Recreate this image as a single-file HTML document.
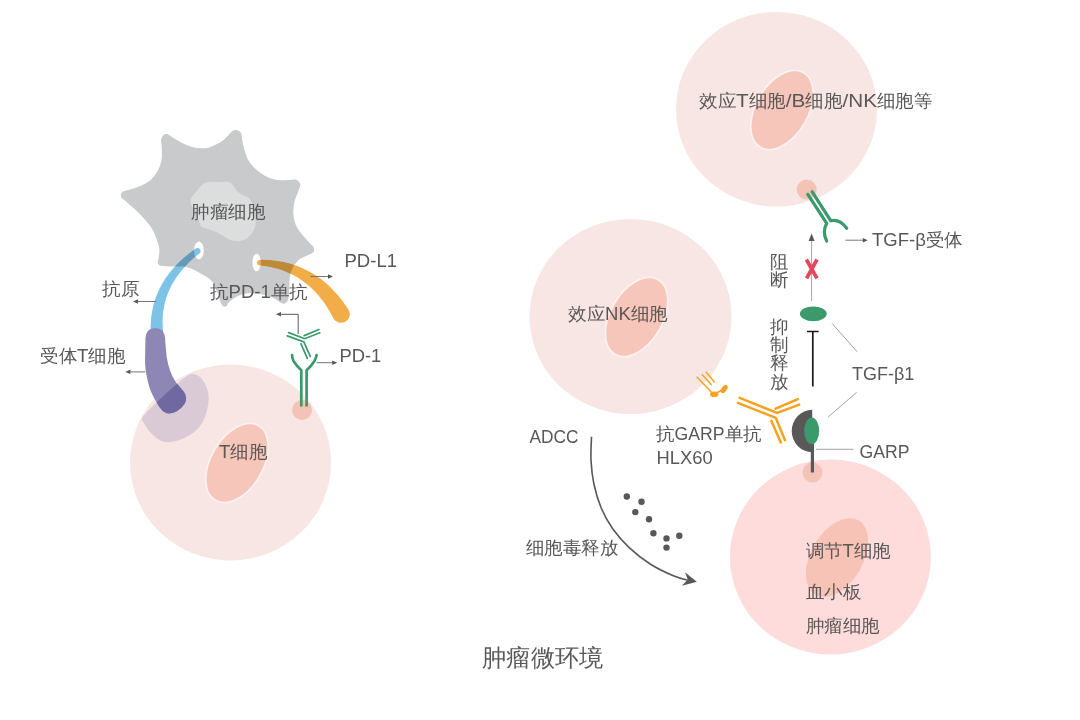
<!DOCTYPE html>
<html><head><meta charset="utf-8"><style>
html,body{margin:0;padding:0;background:#fff;width:1080px;height:720px;overflow:hidden}
svg{position:absolute;left:0;top:0}
text{font-family:"Liberation Sans",sans-serif;fill:#595757}
</style></head><body>
<svg width="1080" height="720" viewBox="0 0 1080 720">
<ellipse cx="230.5" cy="462.5" rx="100.5" ry="98" fill="#f8e6e4"/>
<ellipse cx="237" cy="463" rx="26" ry="43" transform="rotate(30 237 463)" fill="#f5c6b9" stroke="#fff" stroke-opacity="0.65" stroke-width="1.6"/>
<path d="M142.5,417.5 C144.2,414.2 150.4,408.6 155.0,404.0 C159.6,399.4 165.2,394.3 170.0,390.0 C174.8,385.7 180.3,380.7 184.0,378.0 C187.7,375.3 189.3,374.2 192.0,374.0 C194.7,373.8 197.7,375.0 200.0,377.0 C202.3,379.0 204.6,382.5 206.0,386.0 C207.4,389.5 208.7,393.3 208.7,398.0 C208.7,402.7 207.4,409.3 206.0,414.0 C204.6,418.7 202.7,422.5 200.0,426.0 C197.3,429.5 194.0,432.5 190.0,435.0 C186.0,437.5 180.5,439.9 176.0,441.0 C171.5,442.1 167.0,442.7 163.0,441.5 C159.0,440.3 155.1,436.9 152.0,434.0 C148.9,431.1 146.1,426.8 144.5,424.0 C142.9,421.2 140.8,420.8 142.5,417.5 Z" fill="#d9cad5"/>
<g style="mix-blend-mode:multiply"><path d="M163.9,134.8 C164.9,133.9 166.1,133.9 167.2,134.1 C168.3,134.3 168.2,134.6 170.6,136.1 C173.0,137.6 178.0,141.0 181.7,142.8 C185.4,144.7 189.1,146.3 192.8,147.2 C196.5,148.1 200.9,148.4 203.9,148.3 C206.9,148.2 208.1,147.9 211.1,146.7 C214.1,145.5 219.0,143.3 222.2,141.1 C225.3,138.9 228.2,135.1 230.0,133.3 C231.8,131.6 232.2,131.2 233.3,130.6 C234.4,130.0 235.4,129.6 236.7,130.0 C238.0,130.4 240.2,131.6 241.1,133.3 C242.0,135.0 241.6,137.2 242.2,140.0 C242.8,142.8 243.3,146.5 244.4,150.0 C245.5,153.5 247.0,157.9 248.9,161.1 C250.8,164.2 252.6,166.3 255.6,168.9 C258.6,171.5 263.0,174.8 266.7,176.7 C270.4,178.5 274.1,179.4 277.8,180.0 C281.5,180.6 286.1,180.1 288.9,180.0 C291.7,179.9 292.9,179.3 294.4,179.4 C295.9,179.5 296.8,179.8 297.8,180.6 C298.8,181.4 300.1,182.9 300.3,184.5 C300.5,186.1 299.8,187.1 298.8,190.0 C297.8,192.9 295.3,198.3 294.4,202.2 C293.5,206.1 293.1,209.6 293.3,213.3 C293.5,217.0 294.3,221.1 295.6,224.4 C296.9,227.7 298.9,230.3 301.1,233.3 C303.3,236.3 306.9,240.0 308.9,242.2 C310.9,244.4 312.4,245.2 313.3,246.7 C314.2,248.2 314.4,249.8 314.0,251.0 C313.6,252.2 313.4,252.5 311.1,253.8 C308.8,255.1 303.0,256.8 300.0,258.9 C297.0,261.0 295.0,263.9 293.3,266.7 C291.6,269.5 290.6,272.7 290.0,275.6 C289.4,278.6 289.6,281.1 289.4,284.4 C289.2,287.7 289.2,292.9 288.9,295.6 C288.6,298.3 288.4,299.2 287.8,300.5 C287.2,301.8 286.7,302.9 285.6,303.3 C284.5,303.7 283.2,303.9 281.1,303.0 C279.1,302.1 276.5,299.2 273.3,297.8 C270.1,296.4 266.4,295.1 262.2,294.4 C257.9,293.6 252.1,292.9 247.8,293.3 C243.6,293.7 239.8,295.2 236.7,296.7 C233.5,298.2 230.6,300.6 228.9,302.2 C227.2,303.8 227.4,305.3 226.5,306.0 C225.6,306.7 224.5,307.2 223.5,306.5 C222.5,305.8 222.3,306.0 220.5,302.0 C218.7,298.0 216.2,287.4 212.9,282.6 C209.6,277.8 204.9,275.9 200.6,273.4 C196.3,270.8 191.5,268.4 186.9,267.3 C182.3,266.2 177.4,266.8 173.1,266.5 C168.8,266.2 163.4,266.3 160.9,265.7 C158.4,265.1 158.2,264.0 157.8,262.7 C157.4,261.4 158.3,260.4 158.6,258.1 C158.8,255.8 159.7,252.2 159.3,248.9 C158.9,245.6 157.8,242.0 156.3,238.2 C154.8,234.4 153.3,230.3 150.2,226.0 C147.1,221.7 142.2,216.5 137.9,212.2 C133.6,207.9 127.0,202.5 124.2,200.0 C121.4,197.5 121.5,198.4 121.1,197.2 C120.7,196.0 120.9,193.9 121.7,192.8 C122.5,191.7 123.5,191.5 126.1,190.6 C128.7,189.7 133.5,188.7 137.2,187.2 C140.9,185.7 145.3,183.7 148.3,181.7 C151.3,179.7 153.2,177.4 155.0,175.0 C156.8,172.6 158.3,170.0 159.4,167.2 C160.5,164.4 161.3,161.6 161.7,158.3 C162.1,155.0 161.8,150.3 161.7,147.2 C161.6,144.0 160.7,141.5 161.1,139.4 C161.5,137.3 162.9,135.7 163.9,134.8 Z" fill="#c9cacc" stroke="#c9cacc" stroke-width="0" stroke-linejoin="round"/><path d="M199.6,187.6 C201.2,185.9 202.5,184.3 204.4,183.3 C206.3,182.3 208.8,182.0 211.2,181.8 C213.6,181.6 216.4,182.3 219.0,182.3 C221.6,182.3 224.5,181.4 226.8,181.8 C229.1,182.2 231.0,183.2 232.6,184.7 C234.2,186.1 235.0,188.9 236.5,190.5 C238.0,192.1 239.5,193.2 241.4,194.4 C243.3,195.6 246.4,195.9 248.2,197.4 C250.0,198.9 251.2,200.8 252.0,203.2 C252.8,205.6 252.5,209.3 253.0,211.9 C253.5,214.5 254.6,216.4 255.0,218.7 C255.4,221.0 255.8,223.4 255.5,225.5 C255.2,227.6 254.4,229.3 253.0,231.4 C251.6,233.5 249.5,236.6 247.2,238.2 C244.9,239.8 242.2,240.8 239.4,241.1 C236.7,241.4 233.3,240.9 230.7,240.1 C228.1,239.3 226.2,237.5 223.9,236.2 C221.6,234.9 219.5,233.4 217.1,232.3 C214.7,231.2 211.9,230.4 209.3,229.4 C206.7,228.4 203.3,228.1 201.5,226.5 C199.7,224.9 199.4,222.1 198.6,219.7 C197.8,217.3 197.8,214.2 196.7,211.9 C195.6,209.6 192.8,208.2 191.8,206.1 C190.8,204.0 190.3,201.4 190.8,199.3 C191.3,197.2 193.2,195.4 194.7,193.5 C196.2,191.6 198.0,189.3 199.6,187.6 Z" fill="#dcdddd"/></g>
<ellipse cx="198.9" cy="250.4" rx="4.8" ry="9" fill="#fff"/>
<ellipse cx="256.6" cy="262.6" rx="4.2" ry="8.8" fill="#fff"/>
<g style="mix-blend-mode:multiply"><path d="M195.7,248.6 L192.7,250.8 L189.7,253.0 L186.9,255.3 L184.2,257.6 L181.5,259.9 L179.0,262.3 L176.6,264.8 L174.3,267.2 L172.0,269.8 L169.9,272.4 L167.9,275.0 L166.0,277.6 L164.2,280.4 L162.6,283.1 L161.0,286.0 L159.5,288.8 L158.2,291.7 L156.9,294.7 L155.8,297.7 L154.7,300.7 L153.8,303.8 L153.0,307.0 L152.4,310.1 L151.8,313.3 L151.3,316.6 L151.0,319.9 L150.8,323.3 L150.6,326.6 L150.7,330.1 L150.8,333.5 A6.2,6.2 0 0 0 163.2,332.5 L163.2,332.5 L162.9,329.4 L162.7,326.4 L162.6,323.5 L162.6,320.5 L162.7,317.6 L162.9,314.7 L163.2,311.9 L163.6,309.1 L164.1,306.3 L164.7,303.5 L165.4,300.8 L166.2,298.0 L167.1,295.4 L168.1,292.7 L169.3,290.0 L170.5,287.4 L171.8,284.8 L173.3,282.3 L174.8,279.7 L176.5,277.2 L178.3,274.7 L180.2,272.2 L182.2,269.8 L184.3,267.4 L186.5,265.0 L188.8,262.6 L191.3,260.3 L193.8,258.0 L196.5,255.7 L199.3,253.4 A3.0,3.0 0 0 0 195.7,248.6 Z" fill="#7dc3e8"/></g>
<g style="mix-blend-mode:multiply"><path d="M258.9,265.3 L262.4,265.7 L265.8,266.2 L269.1,266.8 L272.4,267.5 L275.6,268.3 L278.7,269.1 L281.7,270.1 L284.7,271.2 L287.6,272.4 L290.4,273.7 L293.2,275.1 L295.9,276.5 L298.5,278.1 L301.0,279.8 L303.5,281.5 L306.0,283.4 L308.3,285.3 L310.6,287.3 L312.9,289.5 L315.1,291.7 L317.2,294.0 L319.3,296.4 L321.3,298.9 L323.3,301.5 L325.2,304.3 L327.0,307.1 L328.8,310.0 L330.6,313.0 L332.2,316.1 L333.9,319.3 A8.8,8.8 0 0 0 349.1,310.7 L349.1,310.7 L346.9,307.3 L344.6,304.0 L342.3,300.8 L339.9,297.7 L337.4,294.8 L334.9,291.9 L332.3,289.2 L329.7,286.6 L327.0,284.1 L324.3,281.8 L321.5,279.5 L318.6,277.4 L315.7,275.4 L312.7,273.6 L309.7,271.8 L306.6,270.2 L303.5,268.7 L300.4,267.3 L297.2,266.0 L293.9,264.9 L290.6,263.8 L287.3,262.9 L283.9,262.1 L280.5,261.5 L277.0,260.9 L273.5,260.5 L270.0,260.1 L266.4,259.9 L262.8,259.8 L259.1,259.9 A2.8,2.8 0 0 0 258.9,265.3 Z" fill="#f2ad48"/></g>
<path d="M145.5,338 Q146,328.5 155,328 Q164.5,328.5 165,338 L166.5,356 Q169,372 176,382.5 L184,392 Q188,398 184.5,404 Q178,413 169,413.5 Q162,413 157,403 Q150,392 148,382 Q145,370 145,360 Z" fill="#8e86b5"/>
<clipPath id="cb"><path d="M142.5,417.5 C144.2,414.2 150.4,408.6 155.0,404.0 C159.6,399.4 165.2,394.3 170.0,390.0 C174.8,385.7 180.3,380.7 184.0,378.0 C187.7,375.3 189.3,374.2 192.0,374.0 C194.7,373.8 197.7,375.0 200.0,377.0 C202.3,379.0 204.6,382.5 206.0,386.0 C207.4,389.5 208.7,393.3 208.7,398.0 C208.7,402.7 207.4,409.3 206.0,414.0 C204.6,418.7 202.7,422.5 200.0,426.0 C197.3,429.5 194.0,432.5 190.0,435.0 C186.0,437.5 180.5,439.9 176.0,441.0 C171.5,442.1 167.0,442.7 163.0,441.5 C159.0,440.3 155.1,436.9 152.0,434.0 C148.9,431.1 146.1,426.8 144.5,424.0 C142.9,421.2 140.8,420.8 142.5,417.5 Z"/></clipPath>
<path d="M145.5,338 Q146,328.5 155,328 Q164.5,328.5 165,338 L166.5,356 Q169,372 176,382.5 L184,392 Q188,398 184.5,404 Q178,413 169,413.5 Q162,413 157,403 Q150,392 148,382 Q145,370 145,360 Z" fill="#7068a0" clip-path="url(#cb)"/>
<circle cx="302" cy="410" r="10" fill="#f3c3b6"/>
<path d="M301.3,405.4 L301.3,370.3 Q297,366.5 293.5,361 Q292,358 292.1,355" stroke="#3a9a6c" stroke-width="2.7" fill="none" stroke-linecap="round"/>
<path d="M306.6,405.4 L306.6,370.3 Q311,366.5 314.5,361 Q316,358 316.6,355" stroke="#3a9a6c" stroke-width="2.7" fill="none" stroke-linecap="round"/>
<path d="M288.7,332.6 L304.8,338.7 L319.8,332.8 M304.2,335.6 L318.9,329.5 M287.3,335.9 L303.9,342 L310.3,356.4 M300.9,343.7 L307.3,358.4" stroke="#3a9a6c" stroke-width="1.7" fill="none" stroke-linecap="round"/>
<line x1="156.0" y1="301.5" x2="137.5" y2="301.5" stroke="#6a6868" stroke-width="0.9"/><polygon points="133.0,301.5 138.0,299.2 138.0,303.8" fill="#595757"/>

<line x1="145.3" y1="371.9" x2="129.9" y2="371.9" stroke="#6a6868" stroke-width="0.9"/><polygon points="125.4,371.9 130.4,369.6 130.4,374.1" fill="#595757"/>

<line x1="310.5" y1="276.5" x2="328.5" y2="276.5" stroke="#6a6868" stroke-width="0.9"/><polygon points="333.0,276.5 328.0,278.8 328.0,274.2" fill="#595757"/>

<line x1="316.6" y1="362.7" x2="332.7" y2="362.7" stroke="#6a6868" stroke-width="0.9"/><polygon points="337.2,362.7 332.2,364.9 332.2,360.4" fill="#595757"/>

<polyline points="298.2,334 298.2,314.3 282,314.3" stroke="#595757" stroke-width="1" fill="none"/>
<line x1="282.0" y1="314.3" x2="280.5" y2="314.3" stroke="#6a6868" stroke-width="0.9"/><polygon points="276.0,314.3 281.0,312.1 281.0,316.6" fill="#595757"/>

<ellipse cx="776.5" cy="109.2" rx="100.5" ry="97.3" fill="#f8e6e4"/>
<ellipse cx="782" cy="110" rx="26" ry="43" transform="rotate(30 782 110)" fill="#f5c6b9" stroke="#fff" stroke-opacity="0.65" stroke-width="1.6"/>
<circle cx="806.7" cy="189.6" r="10" fill="#f3c3b6"/>
<ellipse cx="630.5" cy="316.5" rx="101" ry="97.5" fill="#f8e6e4"/>
<ellipse cx="636.6" cy="317" rx="26" ry="43" transform="rotate(30 636.6 317)" fill="#f5c6b9" stroke="#fff" stroke-opacity="0.65" stroke-width="1.6"/>
<ellipse cx="830.4" cy="557" rx="100.5" ry="97.5" fill="#fddcdb"/>
<ellipse cx="837" cy="557.6" rx="26" ry="43" transform="rotate(30 837 557.6)" fill="#f7c3b6"/>
<circle cx="812.5" cy="472.5" r="10" fill="#f3c3b6"/>
<path d="M807.8,194.4 L826.7,223.3 Q822,232 826.7,241" stroke="#3a9a6c" stroke-width="3.2" fill="none" stroke-linecap="round"/>
<path d="M812.2,191.8 L830.7,220.7 Q840,219 846.7,228.2" stroke="#3a9a6c" stroke-width="3.2" fill="none" stroke-linecap="round"/>
<line x1="845.5" y1="240.2" x2="863.3" y2="240.2" stroke="#6a6868" stroke-width="0.9"/><polygon points="867.8,240.2 862.8,242.4 862.8,237.9" fill="#595757"/>

<line x1="811.6" y1="301" x2="811.6" y2="240" stroke="#8c8c8c" stroke-width="0.8"/>
<polygon points="811.6,233.5 808.6,241 814.6,241" fill="#595757"/>
<path d="M806.4,259.5 L817,278.3 M817,259.5 L806.6,278.3" stroke="#e2485a" stroke-width="3.7" fill="none"/>
<ellipse cx="813.3" cy="313.8" rx="13.4" ry="7.4" fill="#3a9a6c"/>
<path d="M812.8,386.5 L812.8,331.5 M807,331.5 L818.6,331.5" stroke="#231815" stroke-width="1.7" fill="none"/>
<line x1="832" y1="323.4" x2="857.2" y2="351.8" stroke="#8c8c8c" stroke-width="0.8"/>
<line x1="856.6" y1="392.4" x2="828.2" y2="416.9" stroke="#8c8c8c" stroke-width="0.8"/>
<path d="M812.2,409.8 A20.5,21.2 0 0 0 812.2,452.2 Z" fill="#595757"/>
<line x1="812.4" y1="440" x2="812.4" y2="472.5" stroke="#595757" stroke-width="3.2"/>
<ellipse cx="811.7" cy="430.8" rx="7.5" ry="13.3" fill="#3a9a6c"/>
<line x1="815.8" y1="449.3" x2="853.5" y2="449.3" stroke="#8c8c8c" stroke-width="0.8"/>
<path d="M739.6,397.9 L777.1,412.9 L799.2,404.6 M775.6,408.7 L797.9,399.2 M737.9,402.9 L775.8,417.9 L785,440.2 M771.3,420.8 L780.8,442.5" stroke="#f6a21e" stroke-width="2.5" fill="none" stroke-linecap="round" stroke-linejoin="miter"/>
<path d="M696.7,376.7 L711.7,392.5 M701.7,374.2 L711.7,385 M705.8,371.7 L714.7,382.5 M714.5,394 L724,389" stroke="#f6a21e" stroke-width="1.5" fill="none"/>
<ellipse cx="714.2" cy="394.2" rx="4.2" ry="2.8" fill="#f6a21e"/>
<ellipse cx="724.2" cy="389" rx="4.6" ry="2.6" transform="rotate(-55 724.2 389)" fill="#f6a21e"/>
<path d="M591.5,436.8 C591.4,440.7 590.6,452.5 591.0,460.4 C591.4,468.3 592.2,476.1 593.9,484.0 C595.6,491.9 597.9,500.0 601.0,507.5 C604.1,515.0 608.0,522.1 612.7,528.8 C617.4,535.5 622.9,541.7 629.2,547.6 C635.5,553.5 643.0,559.5 650.5,564.2 C658.0,568.9 667.6,573.3 674.0,576.0 C680.4,578.7 686.5,579.8 689.0,580.5 " stroke="#595757" stroke-width="1.6" fill="none"/>
<polygon points="696.8,581.8 685,572.3 687.8,579.6 682,585.8" fill="#595757"/>
<circle cx="626.8" cy="496.5" r="3.2" fill="#595757"/>
<circle cx="641.5" cy="501.7" r="3.2" fill="#595757"/>
<circle cx="635.3" cy="512.1" r="3.2" fill="#595757"/>
<circle cx="649.0" cy="519.2" r="3.2" fill="#595757"/>
<circle cx="653.4" cy="533.2" r="3.2" fill="#595757"/>
<circle cx="666.5" cy="538.4" r="3.2" fill="#595757"/>
<circle cx="679.3" cy="535.7" r="3.2" fill="#595757"/>
<circle cx="666.5" cy="547.6" r="3.2" fill="#595757"/>
<text x="191.0" y="217.5" font-size="18.0" text-anchor="start" ><tspan textLength="74.16" lengthAdjust="spacingAndGlyphs">肿瘤细胞</tspan></text>
<text x="102.0" y="295.0" font-size="18.0" text-anchor="start" ><tspan textLength="37.08" lengthAdjust="spacingAndGlyphs">抗原</tspan></text>
<text x="40.0" y="361.5" font-size="18.0" text-anchor="start" ><tspan textLength="37.08" lengthAdjust="spacingAndGlyphs">受体</tspan><tspan textLength="11.33" lengthAdjust="spacingAndGlyphs">T</tspan><tspan textLength="37.08" lengthAdjust="spacingAndGlyphs">细胞</tspan></text>
<text x="210.0" y="297.5" font-size="18.0" text-anchor="start" ><tspan textLength="18.54" lengthAdjust="spacingAndGlyphs">抗</tspan><tspan textLength="42.24" lengthAdjust="spacingAndGlyphs">PD-1</tspan><tspan textLength="37.08" lengthAdjust="spacingAndGlyphs">单抗</tspan></text>
<text x="344.5" y="266.5" font-size="18.0" text-anchor="start" ><tspan textLength="52.55" lengthAdjust="spacingAndGlyphs">PD-L1</tspan></text>
<text x="339.5" y="362.0" font-size="18.0" text-anchor="start" ><tspan textLength="41.83" lengthAdjust="spacingAndGlyphs">PD-1</tspan></text>
<text x="219.0" y="457.5" font-size="18.0" text-anchor="start" ><tspan textLength="11.33" lengthAdjust="spacingAndGlyphs">T</tspan><tspan textLength="37.08" lengthAdjust="spacingAndGlyphs">细胞</tspan></text>
<text x="699.0" y="106.5" font-size="18.0" text-anchor="start" ><tspan textLength="37.08" lengthAdjust="spacingAndGlyphs">效应</tspan><tspan textLength="12.64" lengthAdjust="spacingAndGlyphs">T</tspan><tspan textLength="37.08" lengthAdjust="spacingAndGlyphs">细胞</tspan><tspan textLength="19.56" lengthAdjust="spacingAndGlyphs">/B</tspan><tspan textLength="37.08" lengthAdjust="spacingAndGlyphs">细胞</tspan><tspan textLength="34.51" lengthAdjust="spacingAndGlyphs">/NK</tspan><tspan textLength="55.62" lengthAdjust="spacingAndGlyphs">细胞等</tspan></text>
<text x="872.0" y="245.5" font-size="18.0" text-anchor="start" ><tspan textLength="53.91" lengthAdjust="spacingAndGlyphs">TGF-β</tspan><tspan textLength="37.08" lengthAdjust="spacingAndGlyphs">受体</tspan></text>
<text x="770.0" y="267.5" font-size="18.0" text-anchor="start" ><tspan textLength="18.54" lengthAdjust="spacingAndGlyphs">阻</tspan></text>
<text x="770.0" y="285.5" font-size="18.0" text-anchor="start" ><tspan textLength="18.54" lengthAdjust="spacingAndGlyphs">断</tspan></text>
<text x="770.0" y="332.5" font-size="18.0" text-anchor="start" ><tspan textLength="18.54" lengthAdjust="spacingAndGlyphs">抑</tspan></text>
<text x="770.0" y="350.9" font-size="18.0" text-anchor="start" ><tspan textLength="18.54" lengthAdjust="spacingAndGlyphs">制</tspan></text>
<text x="770.0" y="369.3" font-size="18.0" text-anchor="start" ><tspan textLength="18.54" lengthAdjust="spacingAndGlyphs">释</tspan></text>
<text x="770.0" y="387.7" font-size="18.0" text-anchor="start" ><tspan textLength="18.54" lengthAdjust="spacingAndGlyphs">放</tspan></text>
<text x="852.0" y="379.5" font-size="18.0" text-anchor="start" ><tspan textLength="62.35" lengthAdjust="spacingAndGlyphs">TGF-β1</tspan></text>
<text x="859.5" y="457.5" font-size="18.0" text-anchor="start" ><tspan textLength="49.99" lengthAdjust="spacingAndGlyphs">GARP</tspan></text>
<text x="568.0" y="319.5" font-size="18.0" text-anchor="start" ><tspan textLength="37.08" lengthAdjust="spacingAndGlyphs">效应</tspan><tspan textLength="25.76" lengthAdjust="spacingAndGlyphs">NK</tspan><tspan textLength="37.08" lengthAdjust="spacingAndGlyphs">细胞</tspan></text>
<text x="529.5" y="443.0" font-size="18.0" text-anchor="start" ><tspan textLength="48.96" lengthAdjust="spacingAndGlyphs">ADCC</tspan></text>
<text x="656.0" y="439.5" font-size="18.0" text-anchor="start" ><tspan textLength="18.54" lengthAdjust="spacingAndGlyphs">抗</tspan><tspan textLength="49.99" lengthAdjust="spacingAndGlyphs">GARP</tspan><tspan textLength="37.08" lengthAdjust="spacingAndGlyphs">单抗</tspan></text>
<text x="656.5" y="463.5" font-size="18.0" text-anchor="start" ><tspan textLength="56.14" lengthAdjust="spacingAndGlyphs">HLX60</tspan></text>
<text x="525.7" y="554.0" font-size="18.0" text-anchor="start" ><tspan textLength="92.70" lengthAdjust="spacingAndGlyphs">细胞毒释放</tspan></text>
<text x="805.5" y="556.5" font-size="18.0" text-anchor="start" ><tspan textLength="37.08" lengthAdjust="spacingAndGlyphs">调节</tspan><tspan textLength="11.33" lengthAdjust="spacingAndGlyphs">T</tspan><tspan textLength="37.08" lengthAdjust="spacingAndGlyphs">细胞</tspan></text>
<text x="805.5" y="597.5" font-size="18.0" text-anchor="start" ><tspan textLength="55.62" lengthAdjust="spacingAndGlyphs">血小板</tspan></text>
<text x="805.5" y="631.5" font-size="18.0" text-anchor="start" ><tspan textLength="74.16" lengthAdjust="spacingAndGlyphs">肿瘤细胞</tspan></text>
<text x="482.0" y="665.5" font-size="24.0" text-anchor="start" ><tspan textLength="121.44" lengthAdjust="spacingAndGlyphs">肿瘤微环境</tspan></text>

</svg>
</body></html>
